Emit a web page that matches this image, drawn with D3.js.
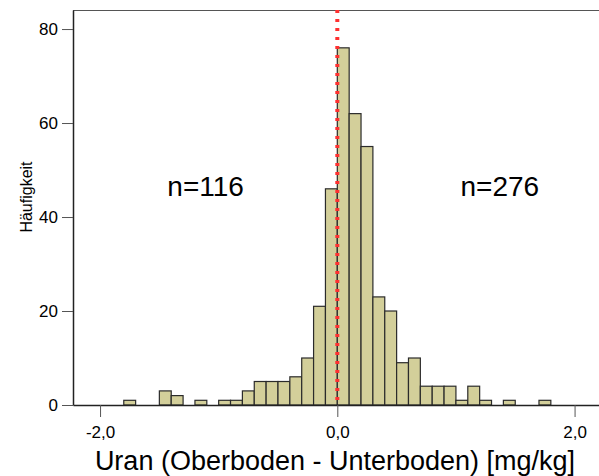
<!DOCTYPE html>
<html lang="de">
<head>
<meta charset="UTF-8">
<title>Histogramm Uran</title>
<script src="https://cdn.jsdelivr.net/npm/d3@7"></script>
<style>
  body { margin: 0; background: #fff; }
  text { font-family: "Liberation Sans", Arial, sans-serif; }
</style>
</head>
<body>
<svg width="599" height="476" id="chart"></svg>
<script>
    // lower edge of each 0.1-wide bin and its count
    const binStarts = [-1.8, -1.7, -1.6, -1.5, -1.4, -1.3, -1.2, -1.1, -1.0, -0.9,
        -0.8, -0.7, -0.6, -0.5, -0.4, -0.3, -0.2, -0.1, 0.0, 0.1,
        0.2, 0.3, 0.4, 0.5, 0.6, 0.7, 0.8, 0.9, 1.0, 1.1,
        1.2, 1.3, 1.4, 1.5, 1.6, 1.7];
    const counts = [1, 0, 0, 3, 2, 0, 1, 0, 1, 1,
        3, 5, 5, 5, 6, 10, 21, 46, 76, 62,
        55, 23, 20, 9, 10, 4, 4, 4, 1, 4,
        1, 0, 1, 0, 0, 1];
    const binWidth = 0.1;
    const xTicks = [-2, 0, 2];
    const yTicks = [0, 20, 40, 60, 80];
    const labels = [{x: -1.11, y: 46.5, text: 'n=116'}, {x: 1.37, y: 46.5, text: 'n=276'}];

    const svg = d3.select('#chart');
    const margin = {top: 10, left: 73};
    const innerWidth = 599 - margin.left;
    const innerHeight = 405 - margin.top;

    const x = d3.scaleLinear().domain([-2.228, 2.206]).range([0, innerWidth]);
    const y = d3.scaleLinear().domain([0, 84.05]).range([innerHeight, 0]);

    const g = svg.append('g').attr('transform', `translate(${margin.left},${margin.top})`);

    const bins = binStarts.map((b, i) => ({x0: b, x1: b + binWidth, n: counts[i]})).filter(d => d.n > 0);

    g.selectAll('.bar').data(bins).join('rect')
        .attr('class', 'bar')
        .attr('x', d => x(d.x0))
        .attr('width', d => x(d.x1) - x(d.x0))
        .attr('y', d => y(d.n))
        .attr('height', d => y(0) - y(d.n))
        .attr('fill', '#d3cf9a')
        .attr('stroke', '#2b2b2b')
        .attr('stroke-width', 1.2);

    // top frame line
    g.append('line').attr('x1', 0).attr('x2', innerWidth).attr('y1', 0.5).attr('y2', 0.5)
        .attr('stroke', '#555').attr('stroke-width', 1);

    const fmt = d => d.toFixed(1).replace('.', ',');
    const xAxis = g.append('g').attr('transform', `translate(0,${innerHeight})`)
        .call(d3.axisBottom(x).tickValues(xTicks).tickFormat(fmt).tickSizeInner(12).tickSizeOuter(0).tickPadding(9));
    xAxis.select('.domain').attr('stroke', '#222').attr('stroke-width', 1.5);
    xAxis.selectAll('.tick line').attr('stroke', '#555');
    xAxis.selectAll('.tick text').attr('font-size', 17).attr('fill', '#000')
        .attr('font-family', '"Liberation Sans", Arial, sans-serif');

    const yAxis = g.append('g')
        .call(d3.axisLeft(y).tickValues(yTicks).tickSizeInner(11).tickSizeOuter(0).tickPadding(4));
    yAxis.select('.domain').attr('stroke', '#222').attr('stroke-width', 1.5);
    yAxis.selectAll('.tick line').attr('stroke', '#555');
    yAxis.selectAll('.tick text').attr('font-size', 17).attr('fill', '#000')
        .attr('font-family', '"Liberation Sans", Arial, sans-serif');

    // reference line at zero
    g.append('line')
        .attr('x1', x(0)).attr('x2', x(0)).attr('y1', 0).attr('y2', innerHeight)
        .attr('stroke', '#ff3030').attr('stroke-width', 4).attr('stroke-dasharray', '3,6');

    g.selectAll('.nlabel').data(labels).join('text')
        .attr('class', 'nlabel')
        .attr('x', d => x(d.x)).attr('y', d => y(d.y))
        .attr('text-anchor', 'middle').attr('dy', '0.35em')
        .attr('font-size', 28).text(d => d.text);

    svg.append('text').attr('x', 335).attr('y', 470)
        .attr('text-anchor', 'middle').attr('font-size', 27)
        .text('Uran (Oberboden - Unterboden) [mg/kg]');

    svg.append('text').attr('transform', 'translate(32,197) rotate(-90)')
        .attr('text-anchor', 'middle').attr('font-size', 16)
        .text('Häufigkeit');
</script>
</body>
</html>
